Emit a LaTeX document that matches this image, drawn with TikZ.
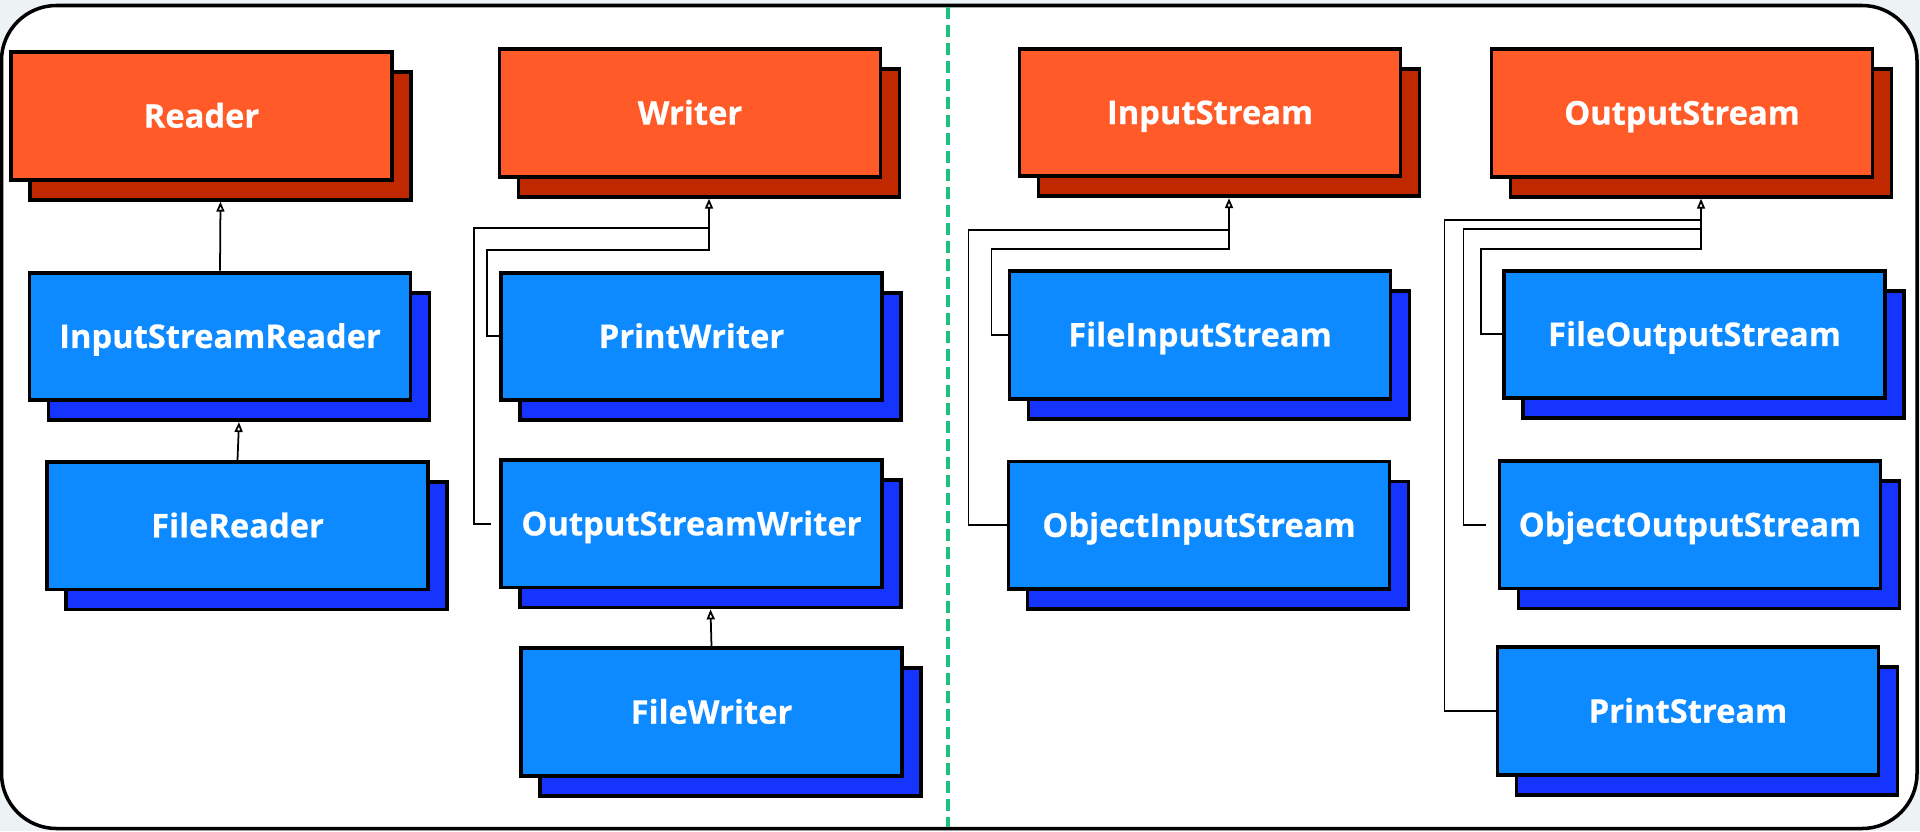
\documentclass[tikz,border=0pt]{standalone}
\usepackage{fontspec}
\setsansfont{Open Sans}[BoldFeatures={FakeBold=0.6}]
\usepackage{tikz}
\usetikzlibrary{positioning,arrows.meta,shadows}
\definecolor{baseOrange}{HTML}{FF5A28}
\definecolor{baseShade}{HTML}{C02800}
\definecolor{subBlue}{HTML}{0D8AFF}
\definecolor{subShade}{HTML}{1535FF}
\definecolor{splitGreen}{HTML}{1BC47D}
\definecolor{canvasGray}{HTML}{EDF2F5}
\tikzset{
  cls/.style={draw,line width=1.1pt,minimum width=3.81cm,minimum height=1.275cm,text=white,
    text height=6.6pt,text depth=0pt,
    font=\sffamily\bfseries\fontsize{9.3}{11}\selectfont},
  base/.style={cls,fill=baseOrange,
    copy shadow={shadow xshift=1.9mm,shadow yshift=-2mm,fill=baseShade,draw=black,line width=1.1pt}},
  sub/.style={cls,fill=subBlue,
    copy shadow={shadow xshift=1.9mm,shadow yshift=-2mm,fill=subShade,draw=black,line width=1.1pt}},
  link/.style={line width=0.5pt},
  arr/.style={link,-{Triangle[open,length=1mm,width=0.8mm]}},
}

\begin{document}
\begin{tikzpicture}
\useasboundingbox (0,0) rectangle (19.2,-8.31);
\fill[canvasGray] (0,0) rectangle (19.2,-8.31);
\draw[line width=1pt,fill=white,rounded corners=5.5mm] (0.015,-0.055) rectangle (19.17,-8.285);
\coordinate (splittop) at (9.48,-0.07);
\coordinate (splitbot) at (9.48,-8.27);
\draw[splitGreen,line width=0.95pt,dash pattern=on 1.2mm off 0.6mm] (splittop) -- (splitbot);

% character streams
\node[base] (rd) at (2.015,-1.16) {Reader};
\node[sub, below=8.9mm of rd, xshift=1.85mm] (isr) {InputStreamReader};
\node[sub, below=5.8mm of isr, xshift=1.75mm] (frd) {FileReader};
\node[base] (wr) at (6.90,-1.13) {Writer};
\node[sub, below=9.2mm of wr, xshift=0.15mm] (pw) {PrintWriter};
\node[sub, below=5.6mm of pw] (osw) {OutputStreamWriter};
\node[sub, below=5.7mm of osw, xshift=2mm] (fw) {FileWriter};

% byte streams
\node[base] (ins) at (12.10,-1.125) {InputStream};
\node[sub, below=9.1mm of ins, xshift=-1mm] (fis) {FileInputStream};
\node[sub, below=5.9mm of fis, xshift=-0.1mm] (ois) {ObjectInputStream};
\node[base] (outs) at (16.82,-1.13) {OutputStream};
\node[sub, below=9mm of outs, xshift=1.25mm] (fos) {FileOutputStream};
\node[sub, below=5.9mm of fos, xshift=-0.45mm] (oos) {ObjectOutputStream};
\node[sub, below=5.5mm of oos, xshift=-0.2mm] (ps) {PrintStream};

\draw[arr] (isr.north) -- ([shift={(1.9mm,-2mm)}]rd.south);
\draw[arr] (frd.north) -- ([shift={(1.9mm,-2mm)}]isr.south);
\draw[arr] (pw.west) -- ++(-1.2mm,0) |- ([shift={(1.9mm,-7.1mm)}]wr.south) -- ([shift={(1.9mm,-2mm)}]wr.south);
\draw[link] ([xshift=-0.8mm]osw.west) -- ++(-1.7mm,0) |- ([shift={(1.9mm,-4.9mm)}]wr.south);
\draw[arr] (fw.north) -- ([shift={(1.9mm,-2mm)}]osw.south);
\draw[arr] (fis.west) -- ++(-1.6mm,0) |- ([shift={(1.9mm,-7.1mm)}]ins.south) -- ([shift={(1.9mm,-2mm)}]ins.south);
\draw[link] (ois.west) -- ++(-3.8mm,0) |- ([shift={(1.9mm,-5.2mm)}]ins.south);
\draw[arr] (fos.west) -- ++(-2.1mm,0) |- ([shift={(1.9mm,-7mm)}]outs.south) -- ([shift={(1.9mm,-2mm)}]outs.south);
\draw[link] ([xshift=-1.2mm]oos.west) -- ++(-2.2mm,0) |- ([shift={(1.9mm,-5mm)}]outs.south);
\draw[link] (ps.west) -- ++(-5.1mm,0) |- ([shift={(1.9mm,-4.1mm)}]outs.south);
\end{tikzpicture}
\end{document}
